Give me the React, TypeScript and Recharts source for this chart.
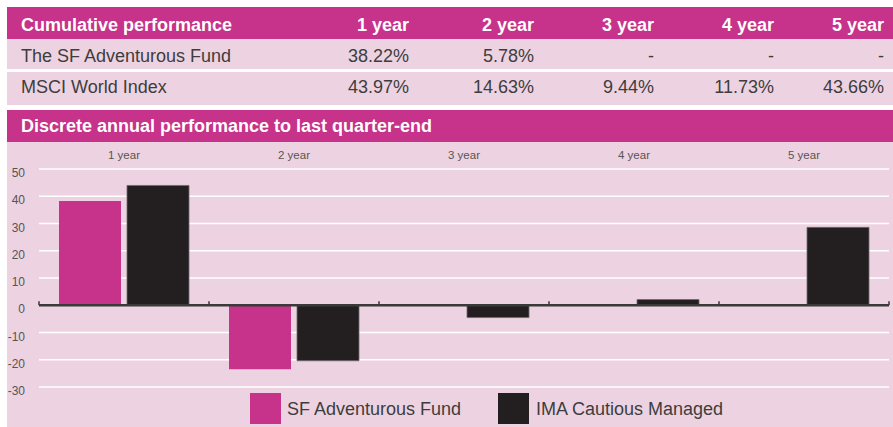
import React from 'react';
import { BarChart, Bar, XAxis, YAxis, CartesianGrid, ReferenceLine, Legend } from 'recharts';

const periods = ['1 year', '2 year', '3 year', '4 year', '5 year'];
const tableTitle = 'Cumulative performance';
const chartTitle = 'Discrete annual performance to last quarter-end';
const tableRowNames = ['The SF Adventurous Fund', 'MSCI World Index'];
const fundCumulative = ['38.22%', '5.78%', '-', '-', '-'];
const indexCumulative = ['43.97%', '14.63%', '9.44%', '11.73%', '43.66%'];
const fundDiscrete: (number | null)[] = [38.22, -23.47, null, null, null];
const sectorDiscrete: (number | null)[] = [43.97, -20.38, -4.53, 2.09, 28.58];
const seriesNames = ['SF Adventurous Fund', 'IMA Cautious Managed'];
const yTicks = [-30, -20, -10, 0, 10, 20, 30, 40, 50];

const PINK = '#C7328A';
const LIGHT = '#EDD3E1';
const BLACK = '#231F20';
const TEXT = '#3d3d3d';
const FONT = '"Liberation Sans", Arial, Helvetica, sans-serif';

const data = periods.map((p, i) => ({ period: p, fund: fundDiscrete[i], sector: sectorDiscrete[i] }));

const colRight = [484, 359, 239, 119, 9];

const YTick = (props: any) => {
  const { x, y, payload } = props;
  return (
    <text x={x} y={y + 8} textAnchor="end" fill="#555" fontSize={12} fontFamily={FONT}>
      {payload.value}
    </text>
  );
};

const XTick = (props: any) => {
  const { x, y, payload } = props;
  return (
    <text x={x} y={y} textAnchor="middle" fill="#555" fontSize={11.5} fontFamily={FONT}>
      {payload.value}
    </text>
  );
};

const ZeroLine = (props: any) => {
  const { x1, x2, y1 } = props;
  const n = periods.length;
  const step = (x2 - x1) / n;
  const ticks = [];
  for (let i = 0; i <= n; i++) {
    const tx = x1 + i * step;
    ticks.push(<line key={i} x1={tx} x2={tx} y1={y1 - 4} y2={y1} stroke="#3a3a3a" strokeWidth={1.5} />);
  }
  return (
    <g>
      <line x1={x1} x2={x2} y1={y1} y2={y1} stroke="#3a3a3a" strokeWidth={2.5} />
      {ticks}
    </g>
  );
};

const LegendContent = () => (
  <div style={{ position: 'relative', height: 40, width: 886, fontFamily: FONT }}>
    <div style={{ position: 'absolute', left: 243, top: 6, width: 31, height: 31, background: PINK }} />
    <div style={{ position: 'absolute', left: 280, top: 11.5, fontSize: 18, lineHeight: '20px', color: TEXT, whiteSpace: 'nowrap' }}>
      {seriesNames[0]}
    </div>
    <div style={{ position: 'absolute', left: 491, top: 6, width: 31, height: 31, background: BLACK }} />
    <div style={{ position: 'absolute', left: 529, top: 11.5, fontSize: 18, lineHeight: '20px', color: TEXT, whiteSpace: 'nowrap' }}>
      {seriesNames[1]}
    </div>
  </div>
);

const cellText = (text: string, right: number, top: number, color: string, bold = false, key?: any) => (
  <div
    key={key}
    style={{
      position: 'absolute',
      right,
      top,
      fontSize: 18,
      lineHeight: '20px',
      color,
      fontWeight: bold ? 700 : 400,
      whiteSpace: 'nowrap',
    }}
  >
    {text}
  </div>
);

export default function App() {
  return (
    <div style={{ position: 'absolute', left: 0, top: 0, width: 893, height: 427, background: '#fff', fontFamily: FONT, overflow: 'hidden' }}>
      {/* header */}
      <div style={{ position: 'absolute', left: 7, top: 7, width: 886, height: 32, background: PINK }} />
      <div style={{ position: 'absolute', left: 7, top: 39, width: 886, height: 30, background: LIGHT }} />
      <div style={{ position: 'absolute', left: 7, top: 72, width: 886, height: 33, background: LIGHT }} />
      <div style={{ position: 'absolute', left: 7, top: 110, width: 886, height: 32, background: PINK }} />

      <div style={{ position: 'absolute', left: 21, top: 14.5, fontSize: 18, lineHeight: '20px', color: '#fff', fontWeight: 700, whiteSpace: 'nowrap' }}>
        {tableTitle}
      </div>
      {periods.map((p, i) => cellText(p, colRight[i], 14.5, '#fff', true, 'h' + i))}

      <div style={{ position: 'absolute', left: 21, top: 46, fontSize: 18, lineHeight: '20px', color: TEXT, whiteSpace: 'nowrap' }}>
        {tableRowNames[0]}
      </div>
      {fundCumulative.map((v, i) => cellText(v, colRight[i], 46, TEXT, false, 'f' + i))}

      <div style={{ position: 'absolute', left: 21, top: 76.5, fontSize: 18, lineHeight: '20px', color: TEXT, whiteSpace: 'nowrap' }}>
        {tableRowNames[1]}
      </div>
      {indexCumulative.map((v, i) => cellText(v, colRight[i], 76.5, TEXT, false, 'm' + i))}

      <div style={{ position: 'absolute', left: 21, top: 115.5, fontSize: 18, lineHeight: '20px', color: '#fff', fontWeight: 700, whiteSpace: 'nowrap' }}>
        {chartTitle}
      </div>

      <div style={{ position: 'absolute', left: 7, top: 142, width: 886, height: 285, background: LIGHT }}>
        <BarChart
          width={886}
          height={285}
          data={data}
          margin={{ top: 0, right: 4, left: 0, bottom: 0 }}
          barCategoryGap={20}
          barGap={6}
        >
          <CartesianGrid vertical={false} stroke="#ffffff" strokeWidth={1.5} />
          <XAxis
            dataKey="period"
            orientation="top"
            height={27}
            axisLine={false}
            tickLine={false}
            tickSize={6}
            tickMargin={4}
            tick={<XTick />}
            interval={0}
          />
          <YAxis
            domain={[-30, 50]}
            ticks={yTicks}
            width={32}
            axisLine={false}
            tickLine={false}
            tickMargin={8}
            tick={<YTick />}
            interval={0}
          />
          <Bar dataKey="fund" name={seriesNames[0]} fill={PINK} isAnimationActive={false} />
          <Bar dataKey="sector" name={seriesNames[1]} fill={BLACK} stroke="#6e6a6b" strokeWidth={0.8} isAnimationActive={false} />
          <ReferenceLine y={0} shape={<ZeroLine />} />
          <Legend verticalAlign="bottom" height={40} content={<LegendContent />} />
        </BarChart>
      </div>
    </div>
  );
}
